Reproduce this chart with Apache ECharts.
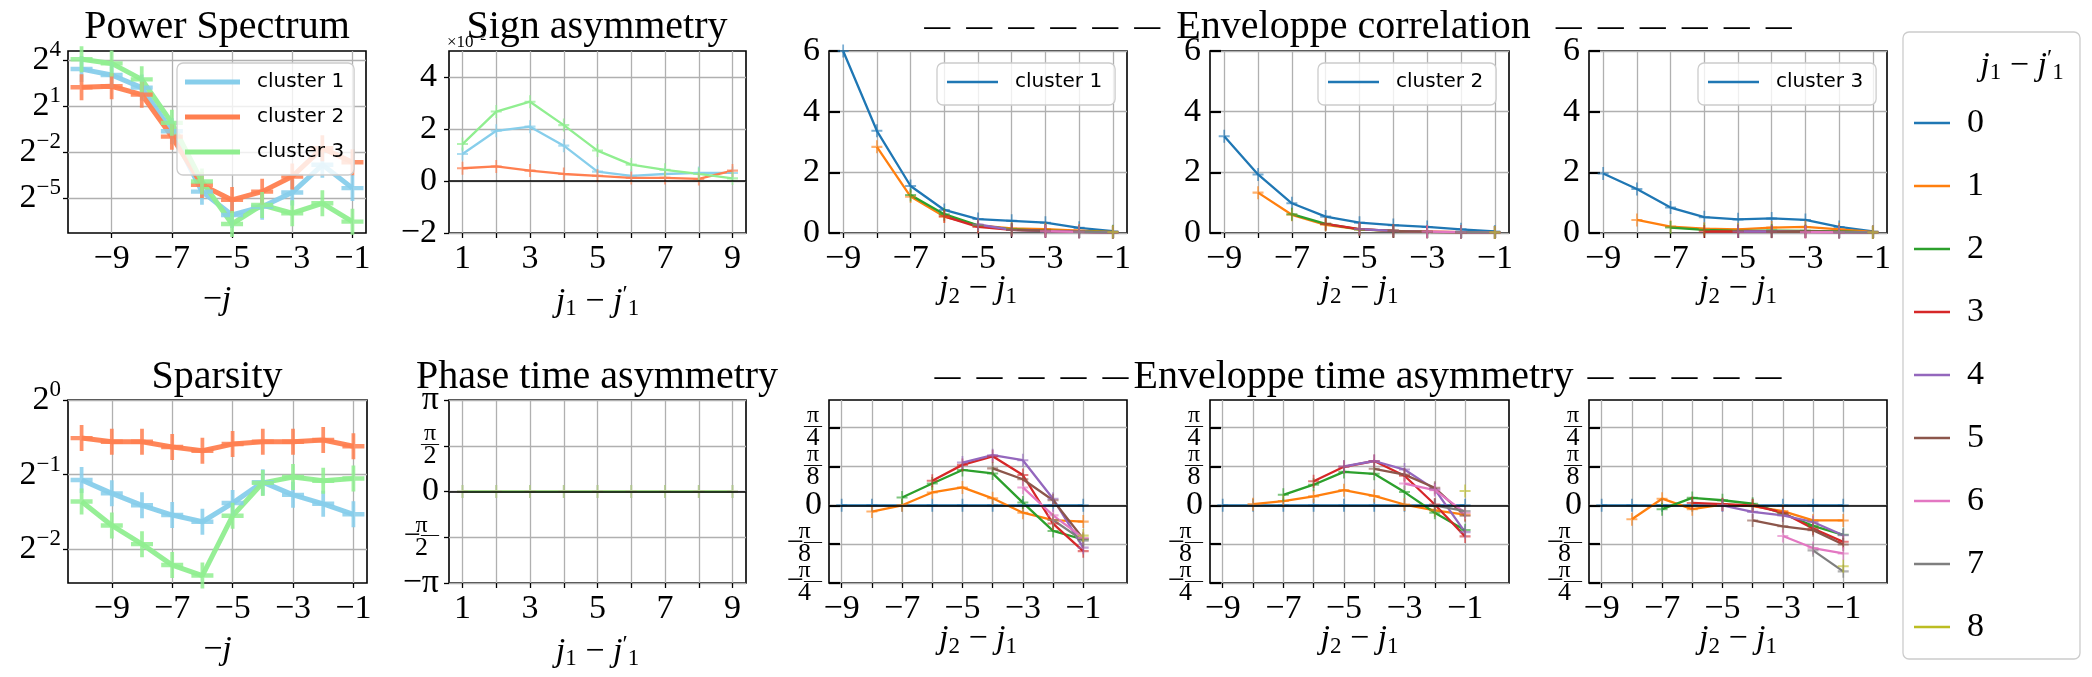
<!DOCTYPE html>
<html>
<head>
<meta charset="utf-8">
<script src="https://cdn.jsdelivr.net/npm/echarts@6/dist/echarts.min.js"></script>
<style>
  html, body { margin: 0; padding: 0; background: #fff; }
  #chart { width: 2092px; height: 677px; }
</style>
</head>
<body>
<div id="chart"></div>
<script>
// x values
const negJ = [-10, -9, -8, -7, -6, -5, -4, -3, -2, -1];
const lagJ = [1, 2, 3, 4, 5, 6, 7, 8, 9];
const gapJ = [-9, -8, -7, -6, -5, -4, -3, -2, -1];
const clusterNames = ['cluster 1', 'cluster 2', 'cluster 3'];
const lagNames = ['0', '1', '2', '3', '4', '5', '6', '7', '8'];

// tick positions
const log2PowerTicks = [-5, -2, 1, 4];
const log2SparsityTicks = [-2, -1, 0];
const oddNegTicks = [-9, -7, -5, -3, -1];
const allNegTicks = [-9, -8, -7, -6, -5, -4, -3, -2, -1];
const oddPosTicks = [1, 3, 5, 7, 9];
const signTicks = [-2, 0, 2, 4];
const corrTicks = [0, 2, 4, 6];
const halfPiTicks = [-2, -1, 0, 1, 2];   // in units of pi/2
const eighthPiTicks = [-2, -1, 0, 1, 2]; // in units of pi/8
const eighthPiEvenTicks = [-2, 0, 2];
const eighthPiOddTicks = [-1, 1];

// Power spectrum (log2 of value)
const powerLog2C1 = [3.41, 3.02, 2.2, -0.65, -4.59, -6.11, -5.57, -4.65, -2.84, -4.36];
const powerLog2C2 = [2.22, 2.29, 1.74, -1.0, -4.15, -5.13, -4.59, -3.6, -1.75, -2.67];
const powerLog2C3 = [4.05, 3.78, 2.74, -0.1, -3.93, -6.7, -5.46, -6.0, -5.35, -6.55];

// Sparsity (log2 of value)
const sparsityLog2C1 = [-1.07, -1.25, -1.41, -1.54, -1.63, -1.38, -1.1, -1.27, -1.39, -1.53];
const sparsityLog2C2 = [-0.51, -0.56, -0.56, -0.63, -0.68, -0.59, -0.56, -0.56, -0.535, -0.62];
const sparsityLog2C3 = [-1.36, -1.68, -1.93, -2.21, -2.35, -1.55, -1.11, -1.03, -1.08, -1.05];

// Sign asymmetry (x 1e-2)
const signC1 = [1.04, 1.93, 2.09, 1.36, 0.36, 0.2, 0.27, 0.31, 0.31];
const signC2 = [0.49, 0.56, 0.4, 0.27, 0.2, 0.12, 0.12, 0.08, 0.4];
const signC3 = [1.42, 2.67, 3.05, 2.15, 1.17, 0.63, 0.43, 0.27, 0.1];

// Phase time asymmetry (units of pi/2)
const phaseC1 = [0, 0, 0, 0, 0, 0, 0, 0, 0];
const phaseC2 = [0, 0, 0, 0, 0, 0, 0, 0, 0];
const phaseC3 = [0, 0, 0, 0, 0, 0, 0, 0, 0];

// Enveloppe correlation, one row per j1-j1' (row k starts at j2-j1 = -9+k)
const envCorrC1 = [
  [6.0, 3.37, 1.55, 0.76, 0.46, 0.4, 0.34, 0.17, 0.06],
  [2.84, 1.2, 0.54, 0.25, 0.15, 0.13, 0.08, 0.04],
  [1.25, 0.62, 0.25, 0.12, 0.08, 0.05, 0.03],
  [0.55, 0.2, 0.1, 0.07, 0.04, 0.02],
  [0.28, 0.1, 0.06, 0.04, 0.02],
  [0.1, 0.07, 0.04, 0.02],
  [0.06, 0.04, 0.02],
  [0.04, 0.02],
  [0.03]
];
const envCorrC2 = [
  [3.19, 1.93, 0.98, 0.54, 0.34, 0.26, 0.2, 0.12, 0.05],
  [1.33, 0.6, 0.27, 0.12, 0.07, 0.05, 0.03, 0.02],
  [0.62, 0.3, 0.12, 0.07, 0.04, 0.03, 0.02],
  [0.3, 0.13, 0.07, 0.04, 0.03, 0.02],
  [0.13, 0.07, 0.04, 0.03, 0.02],
  [0.07, 0.04, 0.03, 0.02],
  [0.05, 0.03, 0.02],
  [0.03, 0.02],
  [0.02]
];
const envCorrC3 = [
  [1.96, 1.45, 0.84, 0.52, 0.45, 0.48, 0.43, 0.2, 0.05],
  [0.43, 0.21, 0.14, 0.12, 0.18, 0.2, 0.12, 0.04],
  [0.18, 0.1, 0.07, 0.08, 0.07, 0.05, 0.02],
  [0.05, 0.05, 0.05, 0.04, 0.03, 0.02],
  [0.05, 0.05, 0.04, 0.03, 0.02],
  [0.04, 0.05, 0.04, 0.02],
  [0.03, 0.03, 0.02],
  [0.03, 0.02],
  [0.02]
];

// Enveloppe time asymmetry (units of pi/8)
const envTimeC1 = [
  [0, 0, 0, 0, 0, 0, 0, 0, 0],
  [-0.16, 0, 0.33, 0.46, 0.18, -0.19, -0.38, -0.42],
  [0.2, 0.56, 0.91, 0.82, 0.07, -0.66, -0.88],
  [0.63, 1.04, 1.26, 0.78, -0.47, -1.18],
  [1.1, 1.29, 1.16, 0.17, -1.09],
  [0.95, 0.67, 0.13, -0.86],
  [0.46, -0.26, -0.84],
  [-0.38, -0.91],
  [-0.78]
];
const envTimeC2 = [
  [0, 0, 0, 0, 0, 0, 0, 0, 0],
  [0.03, 0.11, 0.23, 0.39, 0.24, 0.02, -0.13, -0.24],
  [0.27, 0.53, 0.86, 0.81, 0.34, -0.19, -0.64],
  [0.62, 0.99, 1.14, 0.76, 0.02, -0.8],
  [1.0, 1.14, 0.92, 0.41, -0.69],
  [0.94, 0.79, 0.45, -0.27],
  [0.56, 0.39, -0.19],
  [0, -0.15],
  [0.37]
];
const envTimeC3 = [
  [0, 0, 0, 0, 0, 0, 0, 0, 0],
  [-0.36, 0.17, -0.1, 0.02, -0.02, -0.15, -0.39, -0.39],
  [-0.1, 0.19, 0.13, 0.04, -0.21, -0.53, -0.76],
  [0.06, 0.03, 0, -0.19, -0.6, -0.94],
  [0, -0.17, -0.26, -0.43, -0.77],
  [-0.39, -0.54, -0.64, -1.01],
  [-0.79, -1.1, -1.24],
  [-1.16, -1.7],
  [-1.57]
];

const clusterColors = ['#87ceeb', '#ff7f50', '#90ee90'];
const lagColors = ['#1f77b4', '#ff7f0e', '#2ca02c', '#d62728', '#9467bd', '#8c564b', '#e377c2', '#7f7f7f', '#bcbd22'];

const SERIF = '"Liberation Serif", "DejaVu Serif", serif';
const SANS = '"DejaVu Sans", sans-serif';
const MINUS = '\u2212';
const TICK_FS = 34;

function plusPath(t) {
  return 'path://M-' + t + ',-1L' + t + ',-1L' + t + ',-' + t + 'L1,-' + t + 'L1,' + t + 'L' + t + ',' + t +
    'L' + t + ',1L-' + t + ',1L-' + t + ',' + t + 'L-1,' + t + 'L-1,-' + t + 'L-' + t + ',-' + t + 'Z';
}
const PLUS_BIG = plusPath(0.17);
const PLUS_SMALL = plusPath(0.16);

const minus = v => (v < 0 ? MINUS + (-v) : String(v));

const nameRich = {
  n: { fontFamily: SERIF, fontSize: 34, color: '#000' },
  i: { fontFamily: SERIF, fontSize: 34, fontStyle: 'italic', color: '#000' },
  s: { fontFamily: SERIF, fontSize: 23, color: '#000', padding: [14, 0, 0, 0] },
  p: { fontFamily: SERIF, fontSize: 24, color: '#000', padding: [0, 0, 14, 0] }
};
const NAME_NEG_J = '{n|' + MINUS + '}{i|j}';
const NAME_GAP = '{i|j}{s|2}{n| ' + MINUS + ' }{i|j}{s|1}';
const NAME_LAG = '{i|j}{s|1}{n| ' + MINUS + ' }{i|j}{p|\u2032}{s|1}';

const pow2Rich = {
  b: { fontFamily: SERIF, fontSize: TICK_FS, color: '#000' },
  s: { fontFamily: SERIF, fontSize: 23, color: '#000', padding: [0, 0, 20, 0] }
};
const pow2Label = v => '{b|2}{s|' + minus(v) + '}';

const fracRich = {
  z: { fontFamily: SERIF, fontSize: TICK_FS, color: '#000' },
  num: { fontFamily: SERIF, fontSize: 24, color: '#000', lineHeight: 16, align: 'center' },
  bar: { fontFamily: SERIF, fontSize: 18, color: '#000', lineHeight: 5 },
  m: { fontFamily: SERIF, fontSize: 30, color: '#000', lineHeight: 5 },
  den: { fontFamily: SERIF, fontSize: 26, color: '#000', lineHeight: 19, align: 'center' }
};
function frac(neg, den) {
  return '{num|\u03c0}\n' + (neg ? '{m|' + MINUS + '}' : '') + '{bar|\u2014}\n{den|' + den + '}';
}
const halfPiLabel = v => {
  if (v === 0) return '{z|0}';
  if (v === 2) return '{z|\u03c0}';
  if (v === -2) return '{z|' + MINUS + '\u03c0}';
  return frac(v < 0, 2);
};
const eighthPiLabel = v => {
  if (v === 0) return '{z|0}';
  return frac(v < 0, Math.abs(v) === 2 ? 4 : 8);
};

const grids = [], xAxes = [], yAxes = [], extraY = [], series = [];

function yAxisOf(gi, yo, labels, showTicks, showSplit) {
  return {
    type: 'value', gridIndex: gi, position: 'left', offset: 0, min: yo.min, max: yo.max,
    axisLine: { show: false, onZero: false },
    axisTick: {
      show: showTicks, customValues: yo.ticks, inside: !!yo.inside, length: yo.inside ? 11 : 5,
      lineStyle: { color: '#000', width: yo.inside ? 2.2 : 1.3 }
    },
    axisLabel: {
      customValues: labels, formatter: yo.formatter || minus, rich: yo.rich,
      showMinLabel: true, showMaxLabel: true, hideOverlap: false,
      margin: yo.margin, fontFamily: SERIF, fontSize: TICK_FS, color: '#000'
    },
    splitLine: { show: showSplit, lineStyle: { color: '#b0b0b0', width: 1.3 } }
  };
}

function addPanel(box, xo, yo) {
  const gi = grids.length;
  grids.push({
    left: box[0], top: box[1], width: box[2], height: box[3],
    show: true, borderColor: '#000', borderWidth: 1.6, backgroundColor: 'transparent',
    outerBoundsMode: 'none'
  });
  xAxes.push({
    type: 'value', gridIndex: gi, position: 'bottom', min: xo.min, max: xo.max,
    axisLine: { show: false, onZero: false },
    axisTick: { show: true, customValues: xo.ticks, length: 5, lineStyle: { color: '#000', width: 1.3 } },
    axisLabel: {
      customValues: xo.labels, formatter: minus, margin: 9, showMinLabel: true, showMaxLabel: true,
      fontFamily: SERIF, fontSize: TICK_FS, color: '#000'
    },
    splitLine: { show: true, lineStyle: { color: '#b0b0b0', width: 1.3 } },
    name: xo.name, nameLocation: 'middle', nameGap: xo.nameGap || 50, nameMoveOverlap: false,
    nameTextStyle: { rich: nameRich, fontFamily: SERIF, fontSize: 34, color: '#000' }
  });
  // labels that would collide are split over a second, label-only axis
  yAxes.push(yAxisOf(gi, yo, yo.labels || yo.ticks, true, true));
  if (yo.extraLabels) extraY.push(yAxisOf(gi, yo, yo.extraLabels, false, false));
  return gi;
}

function addLine(gi, name, xs, ys, color, o) {
  const s = {
    type: 'line', name: name, xAxisIndex: gi, yAxisIndex: gi,
    data: ys.map((y, i) => [xs[i], y]),
    color: color,
    lineStyle: { color: color, width: o.width, opacity: o.opacity == null ? 1 : o.opacity },
    itemStyle: { color: color, opacity: o.symbolOpacity == null ? 0.75 : o.symbolOpacity },
    symbol: o.symbol, symbolSize: o.symbolSize, showSymbol: true,
    emphasis: { disabled: true }, silent: true, clip: true, animation: false
  };
  if (o.zeroLine) {
    s.markLine = {
      silent: true, symbol: 'none', label: { show: false }, animation: false,
      lineStyle: { color: '#000', width: 1.6, type: 'solid' },
      data: [{ yAxis: 0 }]
    };
  }
  series.push(s);
}

const bigStyle = { width: 5, opacity: 0.95, symbol: PLUS_BIG, symbolSize: [22, 26], symbolOpacity: 0.85 };
const thinCluster = { width: 2.3, symbol: PLUS_SMALL, symbolSize: [11, 13], symbolOpacity: 0.7 };
const thinLag = { width: 2.3, symbol: PLUS_SMALL, symbolSize: [11, 13], symbolOpacity: 0.6 };

const rowTop = [51, 400];
const rowH = 182;
const colX = [[68, 298], [449, 297], [829, 298], [1210, 299], [1589, 298]];

// Power Spectrum
let g = addPanel([colX[0][0], rowTop[0], colX[0][1], rowH],
  { min: -10.45, max: -0.55, ticks: oddNegTicks, labels: oddNegTicks, name: NAME_NEG_J },
  { min: -7.29, max: 4.59, ticks: log2PowerTicks, formatter: pow2Label, rich: pow2Rich, margin: 7 });
[powerLog2C1, powerLog2C2, powerLog2C3].forEach((d, k) => addLine(g, clusterNames[k], negJ, d, clusterColors[k], bigStyle));

// Sign asymmetry
g = addPanel([colX[1][0], rowTop[0], colX[1][1], rowH],
  { min: 0.6, max: 9.4, ticks: lagJ, labels: oddPosTicks, name: NAME_LAG },
  { min: -2, max: 5, ticks: signTicks, margin: 12 });
[signC1, signC2, signC3].forEach((d, k) => addLine(g, clusterNames[k], lagJ, d, clusterColors[k],
  Object.assign({}, thinCluster, { zeroLine: k === 0 })));

// Enveloppe correlation
[envCorrC1, envCorrC2, envCorrC3].forEach((rows, c) => {
  const gi = addPanel([colX[2 + c][0], rowTop[0], colX[2 + c][1], rowH],
    { min: -9.42, max: -0.58, ticks: allNegTicks, labels: oddNegTicks, name: NAME_GAP, nameGap: 38 },
    { min: 0, max: 6, ticks: corrTicks, inside: true, margin: 9 });
  rows.forEach((d, k) => addLine(gi, k === 0 ? 'env cluster ' + (c + 1) : lagNames[k],
    gapJ.slice(k), d, lagColors[k], thinLag));
});

// Sparsity
g = addPanel([colX[0][0], rowTop[1], colX[0][1] + 1, rowH + 1],
  { min: -10.45, max: -0.55, ticks: oddNegTicks, labels: oddNegTicks, name: NAME_NEG_J },
  { min: -2.45, max: 0, ticks: log2SparsityTicks, formatter: pow2Label, rich: pow2Rich, margin: 7 });
[sparsityLog2C1, sparsityLog2C2, sparsityLog2C3].forEach((d, k) => addLine(g, clusterNames[k], negJ, d, clusterColors[k], bigStyle));

// Phase time asymmetry
g = addPanel([colX[1][0], rowTop[1], colX[1][1], rowH + 1],
  { min: 0.6, max: 9.4, ticks: lagJ, labels: oddPosTicks, name: NAME_LAG },
  { min: -2, max: 2, ticks: halfPiTicks, formatter: halfPiLabel, rich: fracRich, margin: 10 });
[phaseC1, phaseC2, phaseC3].forEach((d, k) => addLine(g, clusterNames[k], lagJ, d, clusterColors[k],
  Object.assign({}, thinCluster, { zeroLine: k === 2, symbolOpacity: 0.5 })));

// Enveloppe time asymmetry
[envTimeC1, envTimeC2, envTimeC3].forEach((rows, c) => {
  const gi = addPanel([colX[2 + c][0], rowTop[1], colX[2 + c][1], rowH + 1],
    { min: -9.42, max: 0.45, ticks: allNegTicks, labels: oddNegTicks, name: NAME_GAP, nameGap: 38 },
    { min: -2, max: 2.71, ticks: eighthPiTicks, labels: eighthPiEvenTicks, extraLabels: eighthPiOddTicks,
      formatter: eighthPiLabel, rich: fracRich, inside: true, margin: 7 });
  rows.forEach((d, k) => addLine(gi, lagNames[k], gapJ.slice(k), d, lagColors[k],
    Object.assign({}, thinLag, { zeroLine: k === 0 })));
});

const legendBase = {
  orient: 'vertical', icon: 'rect', selectedMode: false,
  backgroundColor: 'rgba(255,255,255,0.8)', borderColor: '#cccccc', borderWidth: 1.3, borderRadius: 6,
  itemStyle: { opacity: 1, borderWidth: 0 }
};
const clusterLegendText = { fontFamily: SANS, fontSize: 20, color: '#000', lineHeight: 24, padding: [0, 0, 0, 12] };
const legends = [
  Object.assign({}, legendBase, {
    data: clusterNames, left: 177, top: 63, itemWidth: 55, itemHeight: 5, itemGap: 11,
    padding: [7, 10, 11, 8], textStyle: clusterLegendText
  })
];
[937, 1318, 1698].forEach((lx, c) => legends.push(Object.assign({}, legendBase, {
  data: ['env cluster ' + (c + 1)], formatter: n => n.replace('env ', ''),
  left: lx, top: 63, itemWidth: 51, itemHeight: 2.5, itemGap: 10,
  padding: [7, 13, 11, 10], textStyle: clusterLegendText
})));
legends.push(Object.assign({}, legendBase, {
  data: lagNames, left: 1903, top: 32, itemWidth: 36, itemHeight: 2.5, itemGap: 29,
  padding: [74, 96, 15, 11],
  textStyle: { fontFamily: SERIF, fontSize: 34, color: '#000', lineHeight: 32, padding: [0, 0, 0, 12] }
}));

function titleText(x, y, text) {
  return { type: 'text', x: x, y: y, z: 10, silent: true,
    style: { text: text, align: 'center', verticalAlign: 'middle', fontFamily: SERIF, fontSize: 40, fill: '#000' } };
}
const dashRich = {
  t: { fontFamily: SERIF, fontSize: 40, fill: '#000' },
  d: { fontFamily: SERIF, fontSize: 26, fontWeight: 'bold', width: 42, align: 'left', fill: '#000' },
  e: { fontFamily: SERIF, fontSize: 26, fontWeight: 'bold', width: 31, align: 'left', fill: '#000' },
  g: { fontFamily: SERIF, fontSize: 26, width: 17 },
  h: { fontFamily: SERIF, fontSize: 26, width: 6 }
};
const dashes = n => '{d|\u2014}'.repeat(n);
function dashTitle(x, y, text, count, tight) {
  const lead = tight ? dashes(count - 1) + '{e|\u2014}' : dashes(count);
  const trail = (tight ? '{h| }' : '{g| }') + dashes(count);
  return { type: 'text', x: x, y: y, z: 10, silent: true,
    style: { text: lead + '{t|' + text + '}' + trail, rich: dashRich, align: 'center', verticalAlign: 'middle',
      fontFamily: SERIF, fontSize: 40, fill: '#000' } };
}

const graphics = [
  titleText(217, 27, 'Power Spectrum'),
  titleText(597, 27, 'Sign asymmetry'),
  dashTitle(1362, 27, 'Enveloppe correlation', 6, false),
  titleText(217, 377, 'Sparsity'),
  titleText(597, 377, 'Phase time asymmetry'),
  dashTitle(1362, 377, 'Enveloppe time asymmetry', 5, true),
  { type: 'text', x: 447, y: 43, z: 5, silent: true,
    style: { text: '{a|\u00d710}{b|' + MINUS + '2}', align: 'left', verticalAlign: 'middle',
      rich: { a: { fontFamily: SERIF, fontSize: 17, fill: '#000' },
              b: { fontFamily: SERIF, fontSize: 12, fill: '#000', padding: [0, 0, 12, 0] } } } },
  { type: 'text', x: 2022, y: 66, z: 10, silent: true,
    style: { text: NAME_LAG, rich: nameRich, align: 'center', verticalAlign: 'middle' } }
];

const chart = echarts.init(document.getElementById('chart'), null, { renderer: 'canvas' });
chart.setOption({
  animation: false,
  backgroundColor: '#fff',
  grid: grids,
  xAxis: xAxes,
  yAxis: yAxes.concat(extraY),
  legend: legends,
  series: series,
  graphic: graphics
});
</script>
</body>
</html>
